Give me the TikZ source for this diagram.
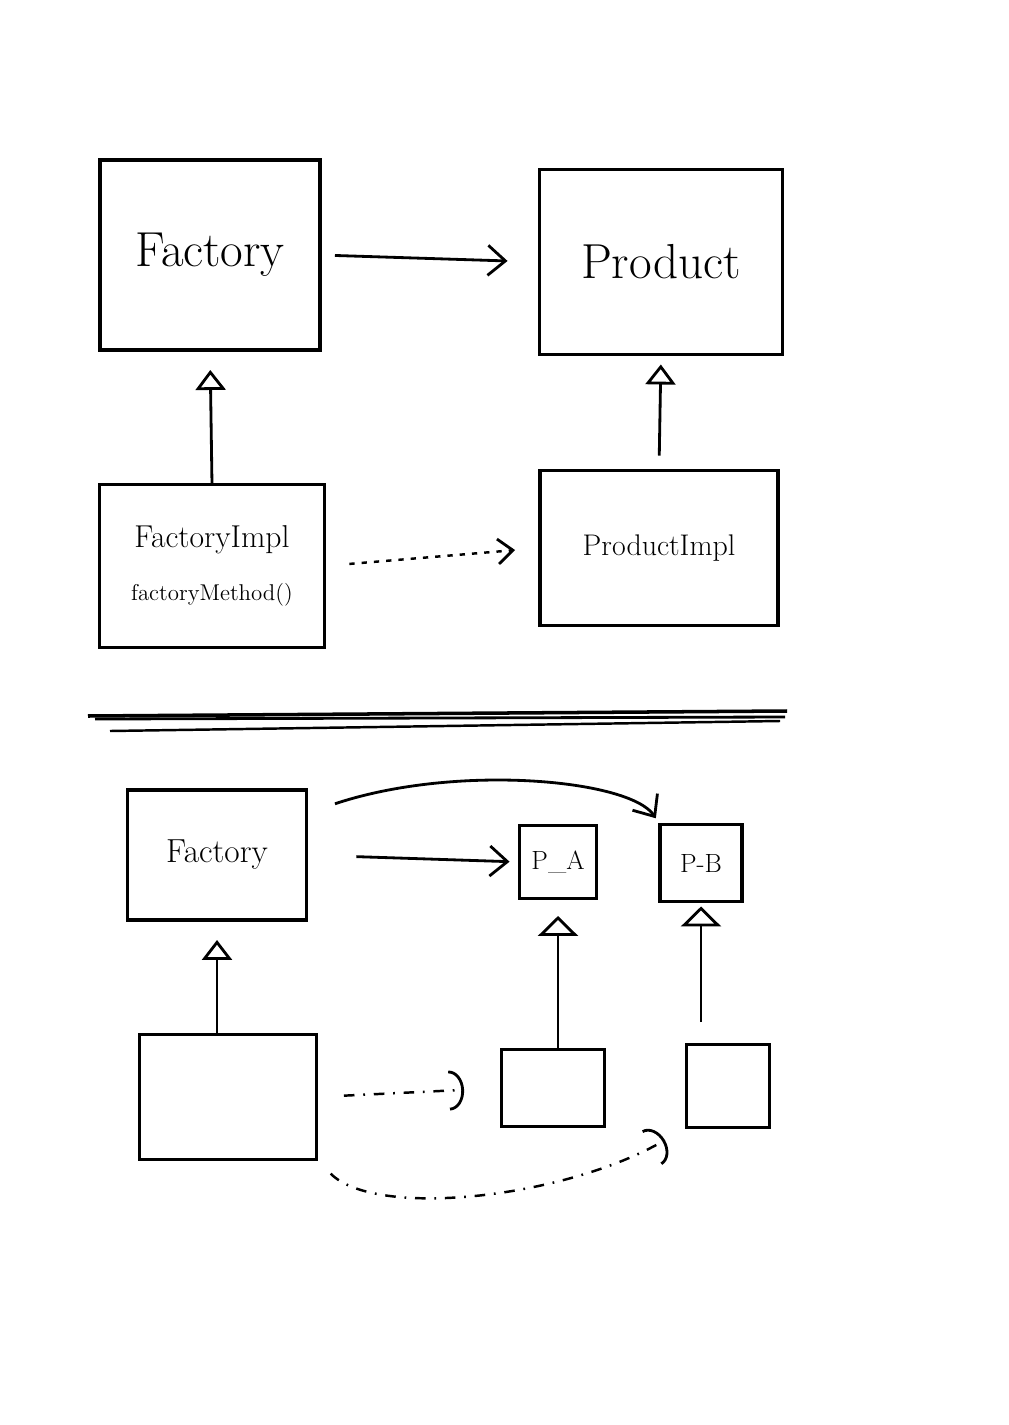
\documentclass[tikz,border=0pt]{standalone}
\usetikzlibrary{arrows.meta,calc}

\begin{document}
\begin{tikzpicture}[x=0.02cm,y=-0.02cm,every node/.style={outer sep=0pt,thick}]
\tikzset{
    box/.style     = {draw,line width=2.2pt,inner sep=0pt,anchor=center},
    assoc/.style   = {line width=1.6pt,-{Straight Barb[length=0.35cm,width=0.6cm,line width=1.6pt]}},
    inherit/.style = {line width=1.6pt,-{Triangle[open,length=0.4cm,width=0.6cm,line width=1.6pt]}},
    inheritb/.style= {line width=1.6pt,-{Triangle[open,length=0.4cm,width=0.8cm,line width=1.6pt]}},
    depend/.style  = {line width=1.4pt,dash pattern=on 3pt off 4pt,-{Straight Barb[length=0.3cm,width=0.5cm,line width=1.6pt]}},
    dashdot/.style = {line width=1.4pt,dash pattern=on 6pt off 5pt on 1pt off 5pt,-{Arc Barb[length=0.3cm,width=0.8cm,line width=1.6pt]}}
}

\fill[white] (0,0) rectangle (1008,1425);
\useasboundingbox (0,0) rectangle (1008,1425);

%% upper half: factory method
\node (factory) [box,minimum width=4.4cm,minimum height=3.8cm,font=\fontsize{28}{34}\selectfont] at (210,255) {\raisebox{-8pt}{Factory}};
\node (product) [box,minimum width=4.86cm,minimum height=3.7cm,font=\fontsize{28}{34}\selectfont] at (661,262) {Product};
\node (factoryimpl) [box,minimum width=4.5cm,minimum height=3.26cm,align=center] at (212,566)
      {{\fontsize{18}{22}\selectfont FactoryImpl}\\[16pt]{\fontsize{13}{16}\selectfont factoryMethod()}};
\node (productimpl) [box,minimum width=4.76cm,minimum height=3.1cm,font=\fontsize{17}{20}\selectfont] at (659,548) {ProductImpl};

\draw [assoc,shorten <=0.3cm,shorten >=0.64cm] (factory.east) -- (product.west);
\draw [inherit,shorten >=0.4cm] (factoryimpl.north) -- (factory.south);
\draw [inherit,shorten <=0.3cm,shorten >=0.2cm] (productimpl.north) -- (product.south);
\draw [depend,shorten <=0.5cm,shorten >=0.5cm] (factoryimpl.east) -- (productimpl.west);

%% separator, a few strokes
\draw [line width=2pt] (88,716) -- (787,711);
\draw [line width=1.6pt] (95,719) -- (785,717);
\draw [line width=1.4pt] (110,731) -- (780,721);

%% lower half: two products
\node (bfactory) [box,minimum width=3.58cm,minimum height=2.6cm,font=\fontsize{19}{23}\selectfont] at (217,855) {Factory};
\node (pa) [box,minimum width=1.54cm,minimum height=1.46cm,font=\fontsize{15}{18}\selectfont] at (558,862) {P\_A};
\node (pb) [box,minimum width=1.64cm,minimum height=1.54cm,font=\fontsize{15}{18}\selectfont] at (701,863) {P-B};
\node (bfactoryimpl) [box,minimum width=3.54cm,minimum height=2.5cm] at (228,1097) {};
\node (paimpl) [box,minimum width=2.06cm,minimum height=1.54cm] at (553,1088) {};
\node (pbimpl) [box,minimum width=1.66cm,minimum height=1.66cm] at (728,1086) {};

\draw [assoc,shorten <=1cm,shorten >=0.2cm] (bfactory.east) -- (pa.west);
\draw [assoc,shorten <=0.6cm,shorten >=0.15cm] (bfactory.25) .. controls +(150,-50) and +(-30,-45) .. (pb.north west);
\draw [inherit,shorten >=0.4cm] (bfactoryimpl.north -| bfactory.south) -- (bfactory.south);
\draw [inheritb,shorten >=0.35cm] (paimpl.north -| pa.south) -- (pa.south);
\draw [inheritb,shorten <=0.45cm,shorten >=0.1cm] (pbimpl.north -| pb.south) -- (pb.south);
\draw [dashdot,shorten <=0.55cm,shorten >=0.75cm] (bfactoryimpl.east) -- (paimpl.west);
\draw [dashdot,shorten <=0.4cm,shorten >=0.5cm] (bfactoryimpl.south east) .. controls +(60,60) and +(-120,70) .. (pbimpl.south west);

\end{tikzpicture}
\end{document}
